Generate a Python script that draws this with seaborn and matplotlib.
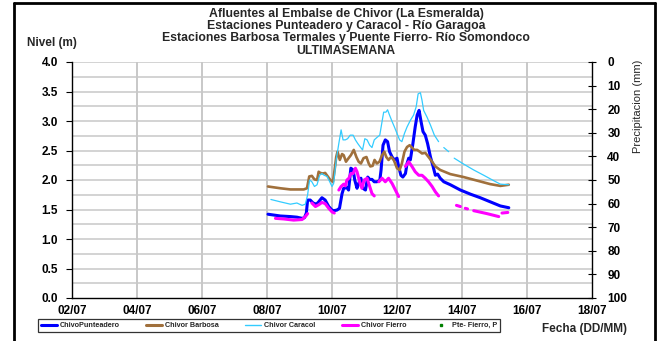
import numpy as np
import pandas as pd
import matplotlib
matplotlib.use("Agg")
import matplotlib.pyplot as plt
from matplotlib.lines import Line2D
import seaborn as sns

nan = np.nan

# ---- data (day of July, level in m) ----
punt_day = [8.03, 8.41, 8.72, 8.92, 9.08, 9.15, 9.21, 9.25, 9.33, 9.42, 9.52, 9.59, 9.69, 9.79,
            9.90, 10.00, 10.05, 10.15, 10.23, 10.31, 10.36, 10.46, 10.51, 10.58, 10.65, 10.70,
            10.77, 10.82, 10.89, 10.95, 11.03, 11.10, 11.16, 11.23, 11.30, 11.38, 11.47, 11.51,
            11.57, 11.64, 11.71, 11.77, 11.85, 11.92, 12.00, 12.05, 12.12, 12.18, 12.26, 12.31,
            12.36, 12.41, 12.49, 12.56, 12.62, 12.68, 12.74, 12.80, 12.87, 12.94, 13.03, 13.11,
            13.18, 13.25, 13.33, 13.44, 13.64, 13.95, 14.26, 14.56, 14.87, 15.18, 15.44]
punt_val = [1.42, 1.39, 1.38, 1.37, 1.35, 1.36, 1.44, 1.66, 1.66, 1.61, 1.59, 1.63, 1.70, 1.66,
            1.55, 1.49, 1.48, 1.49, 1.52, 1.77, 1.86, 1.87, 1.83, 2.20, 2.17, 2.00,
            1.86, 1.94, 2.03, 1.86, 1.83, 2.05, 2.01, 2.01, 1.97, 1.97, 1.99, 2.17,
            2.59, 2.68, 2.65, 2.48, 2.39, 2.34, 2.37, 2.23, 2.08, 2.05, 2.11, 2.28,
            2.37, 2.34, 2.62, 2.90, 3.10, 3.18, 2.99, 2.82, 2.76, 2.62, 2.39, 2.23,
            2.08, 2.10, 2.03, 1.97, 1.92, 1.83, 1.76, 1.70, 1.63, 1.56, 1.53]

barb_day = [8.03, 8.41, 8.72, 9.13, 9.23, 9.30, 9.38, 9.46, 9.54, 9.59, 9.64, 9.72, 9.79, 9.87,
            9.95, 10.03, 10.08, 10.13, 10.17, 10.24, 10.31, 10.36, 10.43, 10.51, 10.58, 10.67,
            10.75, 10.82, 10.89, 10.97, 11.06, 11.13, 11.18, 11.25, 11.31, 11.38, 11.46, 11.54,
            11.61, 11.67, 11.74, 11.82, 11.90, 12.00, 12.08, 12.15, 12.23, 12.31, 12.39, 12.46,
            12.53, 12.62, 12.70, 12.77, 12.87, 12.97, 13.08, 13.18, 13.33, 13.64, 14.05, 14.46,
            14.87, 15.18, 15.44]
barb_val = [1.89, 1.86, 1.84, 1.84, 1.86, 2.06, 2.07, 2.01, 2.00, 2.14, 2.12, 2.11, 2.12, 2.06,
            2.00, 1.97, 2.17, 2.39, 2.48, 2.34, 2.44, 2.42, 2.31, 2.37, 2.42, 2.51,
            2.39, 2.31, 2.28, 2.37, 2.39, 2.28, 2.23, 2.24, 2.34, 2.28, 2.31, 2.42,
            2.48, 2.39, 2.34, 2.39, 2.34, 2.20, 2.17, 2.28, 2.48, 2.56, 2.59, 2.55,
            2.51, 2.51, 2.48, 2.45, 2.46, 2.39, 2.31, 2.23, 2.17, 2.10, 2.05, 1.99,
            1.93, 1.90, 1.92]

cara_day = [8.12, 8.41, 8.72, 8.92, 9.08, 9.18, 9.25, 9.31, 9.38, 9.46, 9.54, 9.62, 9.69, 9.76,
            9.85, 9.93, 10.00, 10.05, 10.13, 10.21, 10.28, 10.34, 10.41, 10.48, 10.56, 10.65,
            10.72, 10.79, 10.87, 10.94, 11.01, 11.08, 11.16, 11.23, 11.30, 11.38, 11.47, 11.54,
            11.59, 11.66, 11.71, 11.77, 11.85, 11.92, 12.00, 12.08, 12.15, 12.23, 12.31, 12.41,
            12.51, 12.59, 12.65, 12.72, 12.77, 12.82, 12.92, 13.03, 13.15, 13.28, 13.36,
            13.44, 13.59, 13.67, 13.76, 14.05, 14.36, 14.67, 14.97, 15.18, 15.44]
cara_val = [1.67, 1.63, 1.59, 1.61, 1.57, 1.59, 1.75, 2.00, 1.97, 1.89, 1.92, 2.08, 2.11, 2.08,
            2.06, 1.97, 1.89, 1.94, 2.34, 2.62, 2.85, 2.68, 2.68, 2.70, 2.76, 2.76,
            2.68, 2.62, 2.56, 2.51, 2.70, 2.68, 2.59, 2.55, 2.68, 2.72, 2.76, 2.99,
            3.15, 3.15, 3.19, 3.10, 2.99, 2.90, 2.79, 2.68, 2.65, 2.79, 2.90, 3.01,
            3.10, 3.24, 3.46, 3.48, 3.35, 3.18, 3.07, 2.93, 2.76, 2.65, nan,
            2.55, 2.48, nan, 2.37, 2.27, 2.17, 2.08, 1.99, 1.93, 1.92]

fier_day = [8.26, 8.51, 8.82, 9.08, 9.18, 9.25, 9.30,
            9.38, 9.49, 9.59, 9.69, 9.79, 9.90, 10.00, 10.07, 10.14,
            10.21, 10.28, 10.36, 10.41, 10.46, 10.52, 10.58, 10.65, 10.72, 10.77, 10.85, 10.92,
            10.99, 11.08, 11.16, 11.23, 11.30, 11.37,
            11.44, 11.54, 11.64, 11.74, 11.85, 11.95, 12.05, 12.15,
            12.26, 12.36, 12.46, 12.56, 12.67, 12.77, 12.87, 12.97, 13.08, 13.18, 13.28, 13.50,
            13.83, 13.95, 14.02, 14.10, 14.17, 14.26, 14.36, 14.77, 15.13, 15.18, 15.23, 15.41]
fier_val = [1.35, 1.34, 1.32, 1.33, 1.38, 1.43, nan,
            1.61, 1.55, 1.58, 1.62, 1.60, 1.52, 1.46, 1.44, nan,
            1.83, 1.89, 1.93, 1.90, 2.00, 2.03, 2.11, 2.11, 2.20, 2.14, 1.97, 1.86,
            2.00, 2.03, 1.89, 1.77, 1.73, nan,
            1.97, 2.03, 1.97, 2.03, 1.94, 1.83, 1.72, nan,
            2.23, 2.31, 2.23, 2.14, 2.08, 2.08, 2.03, 1.97, 1.89, 1.80, 1.73, nan,
            1.57, 1.55, nan, 1.52, 1.51, nan, 1.48, 1.43, 1.38, nan, 1.44, 1.45]

pte_day = []
pte_val = []

series_names = ["ChivoPunteadero", "Chivor Barbosa", "Chivor Caracol", "Chivor Fierro", "Pte- Fierro, P"]
tick_days = [2, 4, 6, 8, 10, 12, 14, 16, 18]
tick_labels = ["02/07", "04/07", "06/07", "08/07", "10/07", "12/07", "14/07", "16/07", "18/07"]

# ---- figure ----
sns.set_theme(style="white")
plt.rcParams["font.family"] = ["Liberation Sans", "DejaVu Sans"]
plt.rcParams["font.weight"] = "bold"

W, H = 658, 341
fig = plt.figure(figsize=(W / 100, H / 100), dpi=100)
fig.patch.set_facecolor("white")
ax = fig.add_axes([72 / W, 1 - 298 / H, (592 - 72) / W, (298 - 62) / H])
ax.set_facecolor("white")

colors = ["#0000FF", "#A0703C", "#33CCFF", "#FF00FF", "#008000"]
lws = [2.2, 1.9, 0.9, 2.2]
data = [(punt_day, punt_val), (barb_day, barb_val), (cara_day, cara_val), (fier_day, fier_val)]
order = [1, 2, 0, 3]
for i in order:
    d, v = data[i]
    df = pd.DataFrame({"day": d, "val": v})
    df["seg"] = df["val"].isna().cumsum()
    df = df.dropna()
    sns.lineplot(data=df, x="day", y="val", units="seg", estimator=None, sort=False,
                 color=colors[i], lw=lws[i], ax=ax, legend=False, zorder=3 + i)
if pte_day:
    sns.scatterplot(x=pte_day, y=pte_val, color=colors[4], marker="s", s=4, ax=ax)

ax.set_xlim(2, 18)
ax.set_ylim(0, 4)
ax.set_xticks(tick_days)
ax.set_xticklabels(tick_labels)
ax.set_yticks(np.arange(0, 4.01, 0.5))
ax.set_yticklabels([f"{t:.1f}" for t in np.arange(0, 4.01, 0.5)])
ax.grid(False)
for y in np.arange(0.25, 4.01, 0.25):
    ax.axhline(y, color="#D0D0D0", lw=1.3, zorder=1)
for x in tick_days[1:-1]:
    ax.axvline(x, color="#C8C8C8", lw=1.4, zorder=1)
ax.set_xlabel("")
ax.set_ylabel("")
for s in ["left", "bottom"]:
    ax.spines[s].set_color("black")
    ax.spines[s].set_linewidth(1.0)
ax.spines["top"].set_visible(False)
ax.spines["right"].set_visible(False)
ax.tick_params(axis="both", labelsize=8.5, colors="black", length=4, width=0.8)
ax.tick_params(axis="x", direction="inout", length=6, pad=2)
ax.tick_params(axis="y", direction="out", length=4, pad=6)
for lab in ax.get_xticklabels() + ax.get_yticklabels():
    lab.set_fontweight("bold")

ax2 = ax.twinx()
ax2.set_ylim(100, 0)
ax2.set_yticks(np.arange(0, 101, 10))
ax2.set_yticklabels([str(t) for t in range(0, 101, 10)])
ax2.grid(False)
for s in ["left", "top", "bottom"]:
    ax2.spines[s].set_visible(False)
ax2.spines["right"].set_color("black")
ax2.spines["right"].set_linewidth(1.0)
ax2.tick_params(axis="y", direction="inout", length=6, width=0.8, labelsize=8.5, colors="black", pad=8)
for lab in ax2.get_yticklabels():
    lab.set_fontweight("bold")

# titles
title_lines = ["Afluentes al Embalse de Chivor (La Esmeralda)",
               "Estaciones Punteadero y Caracol - Río Garagoa",
               "Estaciones Barbosa Termales y Puente Fierro- Río Somondoco",
               "ULTIMASEMANA"]
for k, t in enumerate(title_lines):
    fig.text(346 / W, 1 - (13.5 + 12.5 * k) / H, t, ha="center", va="center",
             fontsize=8.8, fontweight="bold")

fig.text(52 / W, 1 - 43 / H, "Nivel (m)", ha="center", va="center", fontsize=8.5, fontweight="bold")
fig.text(638 / W, 1 - 106 / H, "Precipitacion (mm)", ha="center", va="center", rotation=90,
         fontsize=8, fontweight="normal")
fig.text(585 / W, 1 - 329 / H, "Fecha (DD/MM)", ha="center", va="center", fontsize=8.5, fontweight="bold")

# legend
handles = [Line2D([], [], color=colors[0], lw=2.2),
           Line2D([], [], color=colors[1], lw=2.2),
           Line2D([], [], color=colors[2], lw=1.0),
           Line2D([], [], color=colors[3], lw=2.2),
           Line2D([], [], color=colors[4], lw=0, marker="s", markersize=1.8)]
leg = fig.legend(handles, series_names, loc="center", bbox_to_anchor=((31 + 507) / 2 / W, 1 - 325.5 / H),
                 ncol=5, frameon=True, fancybox=False, handlelength=2.2,
                 handletextpad=0.4, columnspacing=3.7, borderpad=0.35, prop={"weight": "bold", "size": 5.2})
leg.get_frame().set_edgecolor("black")
leg.get_frame().set_linewidth(0.9)

# figure border (left, top, right)
bx0, bx1, by = 13.5 / W, 654.5 / W, 1 - 2.5 / H
fig.add_artist(Line2D([bx0, bx0], [0, by], color="black", lw=2.0, transform=fig.transFigure))
fig.add_artist(Line2D([bx0, bx1], [by, by], color="black", lw=2.0, transform=fig.transFigure))
fig.add_artist(Line2D([bx1, bx1], [0, by], color="black", lw=2.0, transform=fig.transFigure))

fig.savefig("out.png", dpi=100)
